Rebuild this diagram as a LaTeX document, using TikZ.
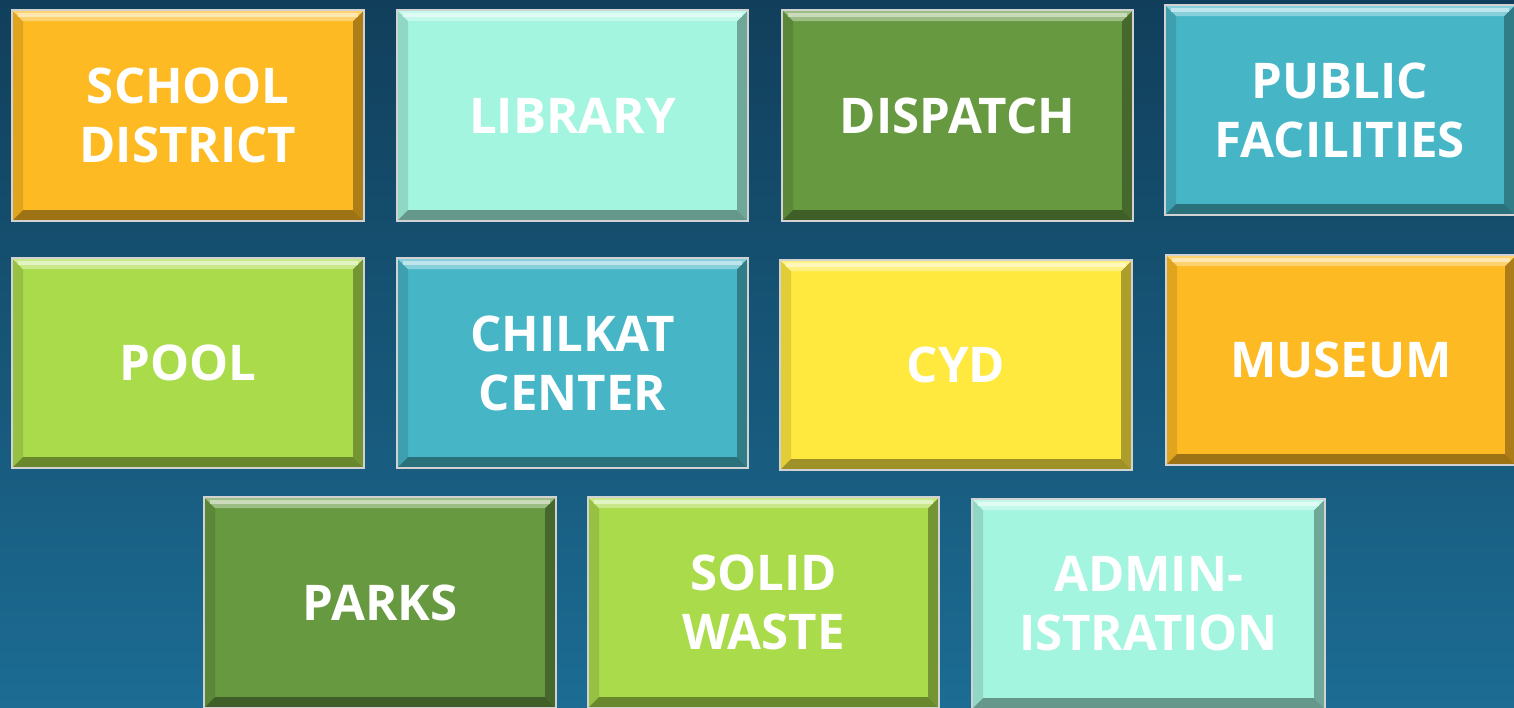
\documentclass[tikz,border=0pt]{standalone}
\usepackage{fontspec}
\setmainfont{Open Sans}
\usetikzlibrary{calc}

\definecolor{bgtop}{HTML}{113F5B}
\definecolor{bgbot}{HTML}{1C6C93}
\definecolor{boxorange}{HTML}{FEBA22}
\definecolor{boxmint}{HTML}{A3F5E0}
\definecolor{boxdkgreen}{HTML}{679940}
\definecolor{boxteal}{HTML}{46B6C7}
\definecolor{boxltgreen}{HTML}{AADB4B}
\definecolor{boxyellow}{HTML}{FFE93F}

\tikzset{
  boxlabel/.style={text=white, font=\fontsize{28}{33.5}\selectfont\bfseries, align=center},
  boxedge/.style={draw=gray!35, line width=0.7pt}
}

% bevelled tile: name, x1, y1, x2, y2, colour, text
\newcommand{\bevbox}[7]{%
  \fill[#6] (#2,#3) rectangle (#4,#5);
  \fill[#6!88!black] (#2,#3) -- (#2+11,#3+11) -- (#2+11,#5-11) -- (#2,#5) -- cycle;
  \fill[#6!68!black] (#4,#3) -- (#4-11,#3+11) -- (#4-11,#5-11) -- (#4,#5) -- cycle;
  \fill[#6!62!black] (#2,#5) -- (#2+11,#5-11) -- (#4-11,#5-11) -- (#4,#5) -- cycle;
  \fill[#6!65!white] (#2,#3) -- (#4,#3) -- (#4-11,#3+11) -- (#2+11,#3+11) -- cycle;
  \draw[#6!35!white, line width=2.2pt] (#2+6,#3+5) -- (#4-6,#3+5);
  \draw[boxedge] (#2,#3) rectangle (#4,#5);
  \node[boxlabel] (#1) at ({(#2+#4)/2},{(#3+#5)/2}) {#7};
}

\begin{document}
\begin{tikzpicture}[x=0.02cm, y=-0.02cm]

\useasboundingbox (0,0) rectangle (1514,707);
\clip (0,0) rectangle (1514,707);
\shade[top color=bgtop, bottom color=bgbot] (0,0) rectangle (1514,707);

% first row
\bevbox{school}{12}{10}{364}{221}{boxorange}{SCHOOL\\DISTRICT}
\bevbox{library}{397}{10}{748}{221}{boxmint}{LIBRARY}
\bevbox{dispatch}{782}{10}{1133}{221}{boxdkgreen}{DISPATCH}
\bevbox{pubfac}{1165}{5}{1515}{215}{boxteal}{PUBLIC\\FACILITIES}

% second row
\bevbox{pool}{12}{258}{364}{468}{boxltgreen}{POOL}
\bevbox{chilkat}{397}{258}{748}{468}{boxteal}{CHILKAT\\CENTER}
\bevbox{cyd}{780}{260}{1132}{470}{boxyellow}{CYD}
\bevbox{museum}{1166}{255}{1516}{465}{boxorange}{MUSEUM}

% third row
\bevbox{parks}{204}{497}{556}{708}{boxdkgreen}{PARKS}
\bevbox{waste}{588}{497}{939}{708}{boxltgreen}{SOLID\\WASTE}
\bevbox{admin}{972}{499}{1325}{709}{boxmint}{ADMIN-\\ISTRATION}

\end{tikzpicture}
\end{document}
